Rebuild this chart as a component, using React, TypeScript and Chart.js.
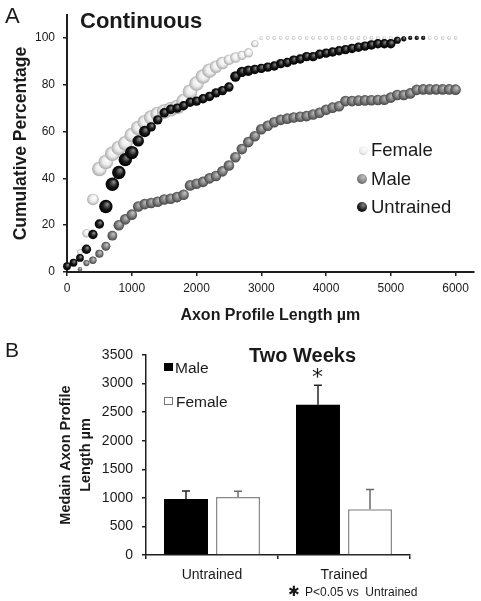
import React, { useEffect, useRef } from 'react';
import { Chart, registerables } from 'chart.js';

Chart.register(...registerables);

// ---------- Panel A data ----------
const lengthBins = [
  0, 100, 200, 300, 400, 500, 600, 700, 800, 900,
  1000, 1100, 1200, 1300, 1400, 1500, 1600, 1700, 1800, 1900,
  2000, 2100, 2200, 2300, 2400, 2500, 2600, 2700, 2800, 2900,
  3000, 3100, 3200, 3300, 3400, 3500, 3600, 3700, 3800, 3900,
  4000, 4100, 4200, 4300, 4400, 4500, 4600, 4700, 4800, 4900,
  5000, 5100, 5200, 5300, 5400, 5500, 5600, 5700, 5800, 5900,
  6000,
];

const femaleCumulative = [
  null, 3, 8.5, 16.5, 31, 44, 47, 50.5, 53, 55,
  58.5, 61.5, 64, 66, 67.5, 68.5, 69.5, 70.5, 73, 77,
  80.5, 83.5, 86, 87.7, 89.3, 90.7, 91.6, 92.5, 93.6, 97.5,
  100, 100, 100, 100, 100, 100, 100, 100, 100, 100,
  100, 100, 100, 100, 100, 100, 100, 100, 100, 100,
  100, 100, 100, 100, 100, 100, 100, 100, 100, 100,
  100,
];

const maleCumulative = [
  null, null, 1.2, 3.8, 5, 7.8, 11, 15.5, 20, 22.5,
  24.5, 28, 29, 29.5, 30, 31, 31.3, 32, 33, 37,
  37.7, 38.5, 40, 41, 43, 45.5, 49, 52.5, 55.5, 58,
  61, 62.5, 64, 65, 65.5, 66, 66.3, 66.6, 67.3, 68,
  69.3, 70.2, 70.8, 73, 73, 73.2, 73.3, 73.4, 73.5, 73.6,
  74.5, 75.6, 75.6, 76.3, 77.8, 78, 78, 78, 78, 78,
  77.9,
];

const untrainedCumulative = [
  2.5, 4, 6, 9.7, 16, 20.5, 28, 37.5, 42.5, 48,
  51, 56, 60, 62, 65, 68, 69.5, 70, 71, 72.5,
  73, 74, 75, 76.5, 77.5, 79, 83.5, 85.5, 86, 86.5,
  87, 87.5, 88, 89, 89.5, 90.5, 91, 92, 92, 93,
  93.5, 94, 94.5, 95, 95.5, 96, 96.5, 97, 97.5, 97.5,
  97.5, 99, 99.6, 100, 100, 100, null, null, null, null,
  null,
];

const lengthTicks = [0, 1000, 2000, 3000, 4000, 5000, 6000];
const percentTicks = [0, 20, 40, 60, 80, 100];

// ---------- Panel B data ----------
const groups = ['Untrained', 'Trained'];
const maleMedian = [980, 2630];
const maleError = [140, 340];
const femaleMedian = [1015, 800];
const femaleError = [100, 345];
const medianTicks = [0, 500, 1000, 1500, 2000, 2500, 3000, 3500];

// ---------- styles ----------
const FONT = '"Liberation Sans", Arial, Helvetica, sans-serif';
const TEXT = '#1a1a1a';
const AXIS = '#1f1f1f';

type Shade = { light: string; mid: string; dark: string };
const FEMALE_SHADE: Shade = { light: '#ffffff', mid: '#ebebeb', dark: '#ababab' };
const MALE_SHADE: Shade = { light: '#c0c0c0', mid: '#808080', dark: '#454545' };
const UNTRAINED_SHADE: Shade = { light: '#858585', mid: '#181818', dark: '#000000' };

function femaleR(x: number) {
  if (x <= 100) return 2.2;
  if (x <= 200) return 2.8;
  if (x <= 300) return 4.2;
  if (x <= 400) return 5.8;
  if (x <= 2200) return 7.3;
  if (x <= 2400) return 6.3;
  if (x <= 2600) return 5.3;
  if (x <= 2800) return 4.6;
  if (x <= 2900) return 3.6;
  return 1.8;
}
function maleR(x: number) {
  if (x <= 200) return 2.2;
  if (x <= 300) return 3.1;
  if (x <= 400) return 3.7;
  if (x <= 500) return 4.1;
  if (x <= 600) return 4.5;
  if (x <= 700) return 4.9;
  return 5.3;
}
function untrainedR(x: number) {
  if (x <= 200) return 3.9;
  if (x <= 500) return 4.7;
  if (x <= 1000) return 6.7;
  if (x <= 1200) return 5.7;
  if (x <= 2500) return 4.7;
  if (x <= 2800) return 5.2;
  if (x <= 5000) return 4.7;
  if (x <= 5100) return 3.6;
  if (x <= 5200) return 2.6;
  return 2.1;
}

function radiusOf(fn: (x: number) => number) {
  return (ctx: any) => (ctx && ctx.parsed ? fn(ctx.parsed.x) : 3);
}

function sphereFill(fn: (x: number) => number, shade: Shade) {
  return (ctx: any) => {
    const chart = ctx.chart;
    const p = ctx.parsed;
    if (!p || !chart || !chart.scales || !chart.scales.x || !chart.scales.y) return shade.mid;
    const x = chart.scales.x.getPixelForValue(p.x);
    const y = chart.scales.y.getPixelForValue(p.y);
    const r = fn(p.x);
    if (!isFinite(x) || !isFinite(y)) return shade.mid;
    const g = chart.ctx.createRadialGradient(x + r * 0.25, y - r * 0.35, r * 0.08, x, y, r);
    g.addColorStop(0, shade.light);
    g.addColorStop(0.55, shade.mid);
    g.addColorStop(1, shade.dark);
    return g;
  };
}

function points(values: (number | null)[]) {
  return lengthBins
    .map((x, i) => ({ x, y: values[i] }))
    .filter((p) => p.y !== null && p.y !== undefined) as { x: number; y: number }[];
}

const plainNumber = (v: any) => String(v);

const errorBarsPlugin = {
  id: 'errorBars',
  afterDatasetsDraw(chart: any) {
    const c = chart.ctx;
    const yScale = chart.scales.y;
    chart.data.datasets.forEach((ds: any, di: number) => {
      const meta = chart.getDatasetMeta(di);
      meta.data.forEach((bar: any, i: number) => {
        const v = ds.data[i];
        const e = ds.errors[i];
        const top = yScale.getPixelForValue(v + e);
        c.save();
        c.strokeStyle = ds.errorColor;
        c.lineWidth = 1.5;
        c.beginPath();
        c.moveTo(bar.x, bar.y);
        c.lineTo(bar.x, top);
        c.moveTo(bar.x - 4, top);
        c.lineTo(bar.x + 4, top);
        c.stroke();
        c.restore();
      });
    });
  },
};

const abs = (s: React.CSSProperties): React.CSSProperties => ({
  position: 'absolute',
  fontFamily: FONT,
  color: TEXT,
  lineHeight: 1,
  whiteSpace: 'pre',
  ...s,
});

function sphereCss(shade: Shade, cx: number, cy: number, r: number): React.CSSProperties {
  return {
    position: 'absolute',
    left: cx - r,
    top: cy - r,
    width: r * 2,
    height: r * 2,
    borderRadius: '50%',
    background: `radial-gradient(circle at 62% 32%, ${shade.light} 0%, ${shade.mid} 55%, ${shade.dark} 100%)`,
  };
}

export default function App() {
  const refA = useRef<HTMLCanvasElement | null>(null);
  const refB = useRef<HTMLCanvasElement | null>(null);

  useEffect(() => {
    Chart.defaults.font.family = FONT;
    Chart.defaults.color = TEXT;

    const chartA = new Chart(refA.current as HTMLCanvasElement, {
      type: 'scatter',
      data: {
        datasets: [
          {
            label: 'Untrained',
            data: points(untrainedCumulative),
            showLine: false,
            pointRadius: radiusOf(untrainedR) as any,
            pointBackgroundColor: sphereFill(untrainedR, UNTRAINED_SHADE) as any,
            pointBorderWidth: 0,
            clip: false as any,
          },
          {
            label: 'Male',
            data: points(maleCumulative),
            showLine: false,
            pointRadius: radiusOf(maleR) as any,
            pointBackgroundColor: sphereFill(maleR, MALE_SHADE) as any,
            pointBorderWidth: 0,
            clip: false as any,
          },
          {
            label: 'Female',
            data: points(femaleCumulative),
            showLine: false,
            pointRadius: radiusOf(femaleR) as any,
            pointBackgroundColor: sphereFill(femaleR, FEMALE_SHADE) as any,
            pointBorderWidth: 0,
            clip: false as any,
          },
        ],
      },
      options: {
        animation: false,
        responsive: false,
        events: [],
        layout: { padding: { top: 13, right: 6, bottom: 0, left: 0 } },
        plugins: { legend: { display: false }, tooltip: { enabled: false } },
        scales: {
          x: {
            type: 'linear',
            min: 0,
            max: 6280,
            afterBuildTicks: (a: any) => {
              a.ticks = lengthTicks.map((value) => ({ value }));
            },
            afterFit: (a: any) => {
              a.height = 58;
            },
            grid: { drawOnChartArea: false, drawTicks: true, tickLength: 4, color: AXIS, lineWidth: 1.5 },
            border: { display: true, color: AXIS, width: 2 },
            ticks: { font: { size: 12, family: FONT }, color: TEXT, padding: 5, maxRotation: 0, autoSkip: false, callback: plainNumber },
            title: {
              display: true,
              text: 'Axon Profile Length µm',
              font: { size: 16, weight: 'bold', family: FONT },
              color: TEXT,
              padding: { top: 0, bottom: 4.5 },
            },
          },
          y: {
            min: 0,
            max: 109.7,
            afterBuildTicks: (a: any) => {
              a.ticks = percentTicks.map((value) => ({ value }));
            },
            afterFit: (a: any) => {
              a.width = 67;
            },
            grid: { drawOnChartArea: false, drawTicks: true, tickLength: 4, color: AXIS, lineWidth: 1.5 },
            border: { display: true, color: AXIS, width: 2 },
            ticks: { font: { size: 12, family: FONT }, color: TEXT, padding: 8, autoSkip: false, callback: plainNumber },
            title: {
              display: true,
              text: 'Cumulative Percentage',
              font: { size: 17.5, weight: 'bold', family: FONT },
              color: TEXT,
              padding: { top: 10.5, bottom: 0 },
            },
          },
        },
      },
    });

    const chartB = new Chart(refB.current as HTMLCanvasElement, {
      type: 'bar',
      data: {
        labels: groups,
        datasets: [
          {
            label: 'Male',
            data: maleMedian,
            backgroundColor: '#000000',
            borderWidth: 0,
            errors: maleError,
            errorColor: '#262626',
          } as any,
          {
            label: 'Female',
            data: femaleMedian,
            backgroundColor: '#ffffff',
            borderColor: '#8a8a8a',
            borderWidth: 1.5,
            errors: femaleError,
            errorColor: '#6a6a6a',
          } as any,
        ],
      },
      options: {
        animation: false,
        responsive: false,
        events: [],
        categoryPercentage: 0.788,
        barPercentage: 0.846,
        layout: { padding: { top: 25, right: 71, bottom: 0, left: 0 } },
        plugins: { legend: { display: false }, tooltip: { enabled: false } },
        scales: {
          x: {
            afterFit: (a: any) => {
              a.height = 46;
            },
            grid: { offset: true, drawOnChartArea: false, drawTicks: true, tickLength: 4, color: AXIS, lineWidth: 1.5 },
            border: { display: true, color: AXIS, width: 1.5 },
            ticks: { font: { size: 14, family: FONT }, color: TEXT, padding: 7.5 },
          },
          y: {
            min: 0,
            max: 3500,
            afterBuildTicks: (a: any) => {
              a.ticks = medianTicks.map((value) => ({ value }));
            },
            afterFit: (a: any) => {
              a.width = 146;
            },
            grid: { drawOnChartArea: false, drawTicks: true, tickLength: 4, color: AXIS, lineWidth: 1.5 },
            border: { display: true, color: AXIS, width: 1.5 },
            ticks: { font: { size: 14, family: FONT }, color: TEXT, padding: 9, autoSkip: false, callback: plainNumber },
            title: {
              display: true,
              text: ['Medain Axon Profile', 'Length µm'],
              font: { size: 14.5, weight: 'bold', family: FONT, lineHeight: 1.35 },
              color: TEXT,
              padding: { top: 56.7, bottom: 0 },
            },
          },
        },
      },
      plugins: [errorBarsPlugin],
    });

    return () => {
      chartA.destroy();
      chartB.destroy();
    };
  }, []);

  return (
    <div style={{ position: 'absolute', left: 0, top: 0, width: 481, height: 601, background: '#ffffff', overflow: 'hidden' }}>
      <canvas ref={refA} width={481} height={330} style={{ position: 'absolute', left: 0, top: 0, width: 481, height: 330 }} />
      <canvas ref={refB} width={481} height={271} style={{ position: 'absolute', left: 0, top: 330, width: 481, height: 271 }} />

      {/* Panel A labels */}
      <div style={abs({ left: 5, top: 5, fontSize: 22 })}>A</div>
      <div style={abs({ left: 80, top: 10, fontSize: 22, fontWeight: 'bold' })}>Continuous</div>

      {/* Panel A legend */}
      <div style={sphereCss(FEMALE_SHADE, 363, 150, 4.5)} />
      <div style={abs({ left: 371, top: 141, fontSize: 18.5 })}>Female</div>
      <div style={sphereCss(MALE_SHADE, 362, 179, 5)} />
      <div style={abs({ left: 371, top: 170, fontSize: 18.5 })}>Male</div>
      <div style={sphereCss(UNTRAINED_SHADE, 362, 207, 5)} />
      <div style={abs({ left: 371, top: 198, fontSize: 18.5 })}>Untrained</div>

      {/* Panel B labels */}
      <div style={abs({ left: 5, top: 339, fontSize: 21 })}>B</div>
      <div style={abs({ left: 249, top: 344.5, fontSize: 20, fontWeight: 'bold' })}>Two Weeks</div>
      <div style={abs({ left: 312, top: 366, fontSize: 22, fontFamily: '"DejaVu Sans", sans-serif' })}>*</div>

      {/* Panel B legend */}
      <div style={{ position: 'absolute', left: 164, top: 363, width: 9, height: 8, background: '#000' }} />
      <div style={abs({ left: 175, top: 359.5, fontSize: 15.5 })}>Male</div>
      <div style={{ position: 'absolute', left: 164, top: 397, width: 9, height: 8, boxSizing: 'border-box', border: '1px solid #777', background: '#fff' }} />
      <div style={abs({ left: 176, top: 393.5, fontSize: 15.5 })}>Female</div>

      {/* Footnote */}
      <div style={abs({ left: 288, top: 584, fontSize: 14, fontFamily: '"DejaVu Sans", sans-serif', fontWeight: 'bold' })}>✱</div>
      <div style={abs({ left: 305, top: 586, fontSize: 12 })}>{'P<0.05 vs  Untrained'}</div>
    </div>
  );
}
